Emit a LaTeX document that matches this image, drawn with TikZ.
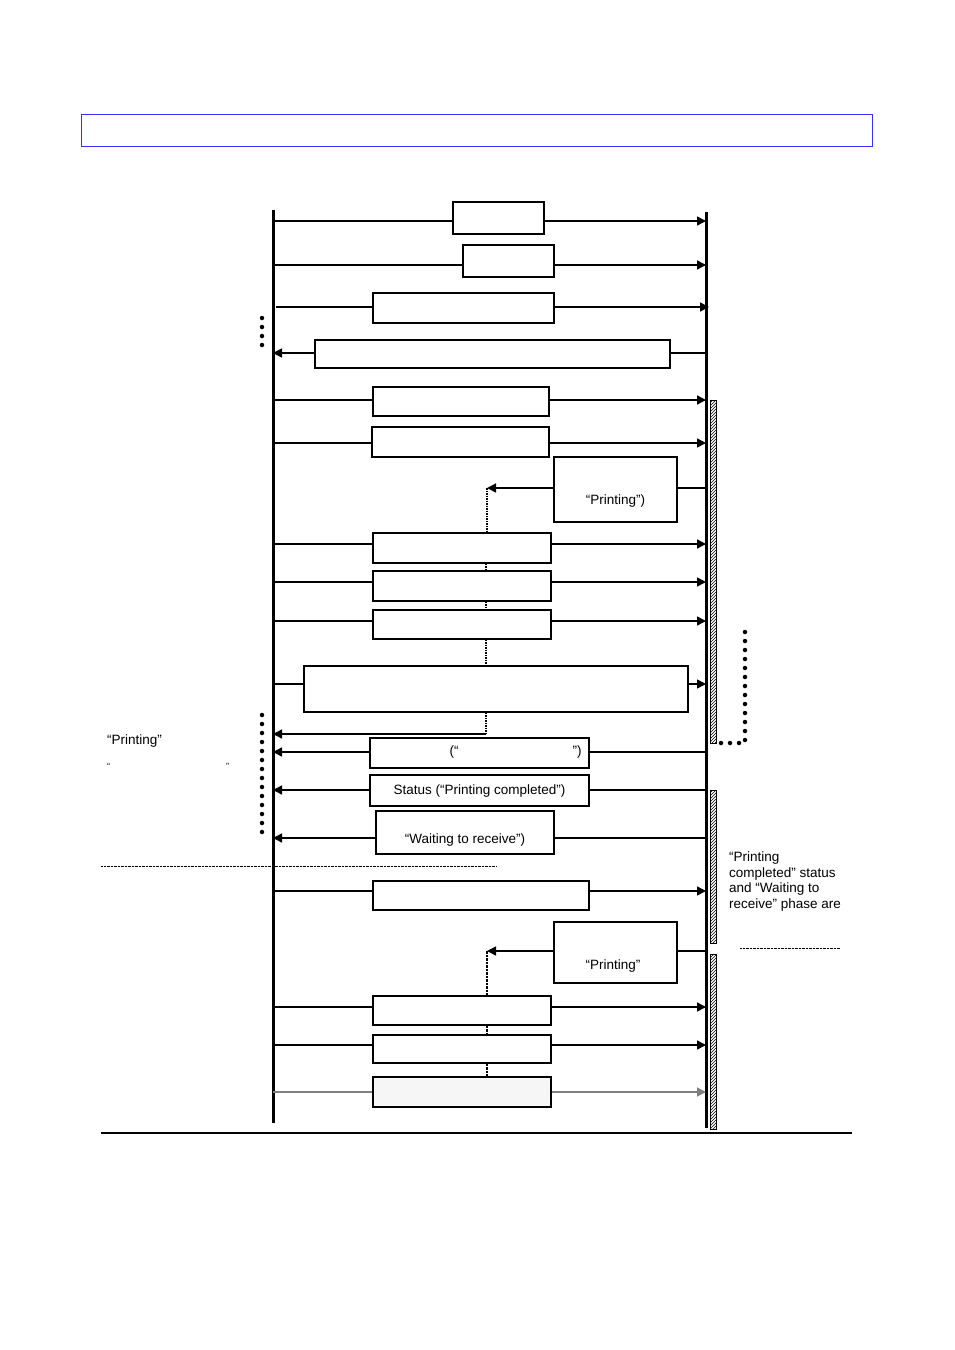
\documentclass[tikz,border=0pt]{standalone}
\usepackage{fontspec}
\setmainfont{Liberation Sans}
\usetikzlibrary{arrows.meta,patterns}

\begin{document}
\begin{tikzpicture}[x=1pt,y=-1pt,>={Triangle[length=9pt,width=9pt]},
    msg/.style={draw,line width=1.1pt,fill=white,inner sep=0pt,font=\fontsize{13.5}{15}\selectfont},
    wire/.style={line width=1.5pt},
    life/.style={line width=3pt},
    phase/.style={draw,line width=0.8pt,pattern=north east lines},
    dots/.style={line width=4.5pt,line cap=round,dash pattern=on 0pt off 9pt}]
  \useasboundingbox (0,0) rectangle (954,1350);
  \node[draw=blue!80,thin,minimum width=791pt,minimum height=32pt] (title) at (476.5,130) {};
  % lifelines
  \coordinate (Ltop) at (273,210); \coordinate (Lbot) at (273,1123);
  \coordinate (Rtop) at (706,212); \coordinate (Rbot) at (706,1128);
  \draw[life] (Ltop) -- (Lbot);
  \draw[life] (Rtop) -- (Rbot);
  % messages
  \node[msg,minimum width=91pt,minimum height=32pt] (m1) at (498.5,218) {};
  \node[msg,line width=2pt,minimum width=91pt,minimum height=32pt] (m2) at (508.5,261) {};
  \node[msg,minimum width=181pt,minimum height=30pt] (m3) at (463.5,308) {};
  \node[msg,minimum width=355pt,minimum height=28pt] (m4) at (492.5,354) {};
  \node[msg,minimum width=176pt,minimum height=29pt] (m5) at (461,401.5) {};
  \node[msg,minimum width=177pt,minimum height=30pt] (m6) at (460.5,442) {};
  \node[msg,minimum width=123pt,minimum height=65pt] (m7) at (615.5,489.5) {};
  \node[font=\fontsize{13.5}{15}\selectfont] at (615.5,501) {“Printing”)};
  \node[msg,minimum width=178pt,minimum height=30pt] (m8) at (462,548) {};
  \node[msg,minimum width=178pt,minimum height=30pt] (m9) at (462,586) {};
  \node[msg,minimum width=178pt,minimum height=29pt] (m10) at (462,624.5) {};
  \node[msg,minimum width=384pt,minimum height=46pt] (m11) at (496,689) {};
  \node[msg,minimum width=219pt,minimum height=30pt] (m12) at (479.5,753) {};
  \node[font=\fontsize{13.5}{15}\selectfont] at (454,752) {(“};
  \node[font=\fontsize{13.5}{15}\selectfont] at (577,752) {”)};
  \node[msg,minimum width=219pt,minimum height=31pt] (m13) at (479.5,790.5) {Status (“Printing completed”)};
  \node[msg,minimum width=178pt,minimum height=43pt] (m14) at (465,832.5) {};
  \node[font=\fontsize{13.5}{15}\selectfont] at (465,840) {“Waiting to receive”)};
  \node[msg,minimum width=216pt,minimum height=29pt] (m15) at (481,895.5) {};
  \node[msg,minimum width=123pt,minimum height=61pt] (m16) at (615.5,952.5) {};
  \node[font=\fontsize{13.5}{15}\selectfont] at (613,966) {“Printing”};
  \node[msg,minimum width=178pt,minimum height=29pt] (m17) at (462,1010.5) {};
  \node[msg,minimum width=178pt,minimum height=28pt] (m18) at (462,1049) {};
  \node[msg,fill=gray!7,minimum width=178pt,minimum height=30pt] (m19) at (462,1092) {};
  % host to printer
  \foreach \m/\y in {m1/221,m2/265,m5/400,m6/443,m8/544,m9/582,m10/621,m11/684,m15/891,m17/1007,m18/1045} {
    \draw[wire] (Ltop |- 0,\y) -- (\m.west |- 0,\y);
    \draw[wire,->] (\m.east |- 0,\y) -- (Rtop |- 0,\y);
  }
  \draw[wire] (276,307) -- (m3.west |- 0,307);
  \draw[wire,->] (m3.east |- 0,307) -- (709,307);
  \draw[wire,gray] (Ltop |- 0,1092) -- (m19.west |- 0,1092);
  \draw[wire,gray,->] (m19.east |- 0,1092) -- (Rtop |- 0,1092);
  % printer to host
  \foreach \m/\y in {m4/353,m12/752,m13/790,m14/838} {
    \draw[wire] (Rtop |- 0,\y) -- (\m.east |- 0,\y);
    \draw[wire,->] (\m.west |- 0,\y) -- (Ltop |- 0,\y);
  }
  \coordinate (s1) at (487,488);
  \coordinate (s2) at (487,951);
  \draw[wire] (Rtop |- s1) -- (m7.east |- s1);
  \draw[wire,->] (m7.west |- s1) -- (s1);
  \draw[wire] (Rtop |- s2) -- (m16.east |- s2);
  \draw[wire,->] (m16.west |- s2) -- (s2);
  % waiting links
  \draw[line width=1.5pt,densely dotted] (s1) -- (m8.north -| s1);
  \draw[line width=1.5pt,densely dotted] (m8.south -| 486,0) -- (m9.north -| 486,0);
  \draw[line width=1.5pt,densely dotted] (m9.south -| 486,0) -- (m10.north -| 486,0);
  \draw[line width=1.5pt,densely dotted] (m10.south -| 486,0) -- (m11.north -| 486,0);
  \coordinate (s3) at (486,734);
  \draw[line width=1.5pt,densely dotted] (m11.south -| s3) -- (s3);
  \draw[wire,->] (s3) -- (Ltop |- s3);
  \draw[line width=2.5pt,densely dotted] (s2) -- (m17.north -| s2);
  \draw[line width=2.5pt,densely dotted] (m17.south -| s2) -- (m18.north -| s2);
  \draw[line width=2.5pt,densely dotted] (m18.south -| s2) -- (m19.north -| s2);
  % phases
  \draw[phase] (710,400) rectangle (716,743);
  \draw[phase] (710,790) rectangle (716,943);
  \draw[phase] (710,954) rectangle (716,1129);
  \draw[dots] (262,318) -- (262,348);
  \draw[dots] (262,715) -- (262,836);
  \draw[dots] (745,632) -- (745,743) -- (721,743);
  % notes
  \node[anchor=west,font=\fontsize{13.5}{15}\selectfont,inner sep=0pt] (n1) at (107,741) {“Printing”};
  \node[anchor=west,font=\fontsize{9}{10}\selectfont,inner sep=0pt] (n2) at (107,766) {“};
  \node[anchor=west,font=\fontsize{9}{10}\selectfont,inner sep=0pt] (n3) at (226,766) {”};
  \node[anchor=north west,align=left,font=\fontsize{13.5}{15.4}\selectfont,inner sep=0pt] (n4) at (729,852)
    {“Printing\\completed” status\\and “Waiting to\\receive” phase are};
  \draw[densely dotted,thin] (101,866) -- (497,866);
  \draw[densely dotted,thin] (740,948) -- (840,948);
  \draw[line width=2pt] (101,1133) -- (852,1133);
\end{tikzpicture}
\end{document}
